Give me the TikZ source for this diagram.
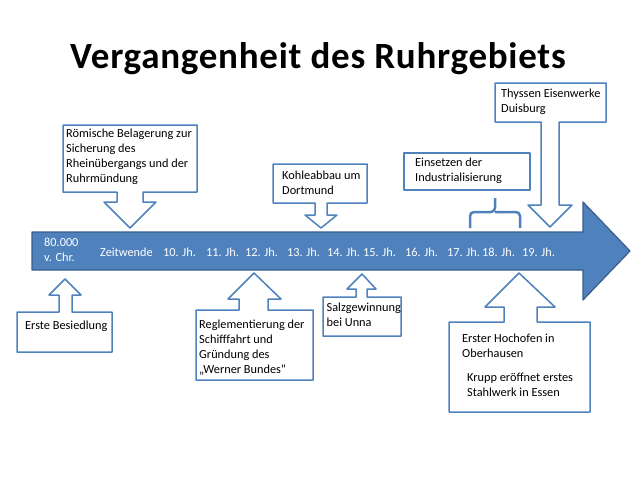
\documentclass[tikz,border=0pt]{standalone}
\usepackage{fontspec}
\setmainfont{Carlito}
\definecolor{ruhrblue}{RGB}{79,129,189}
\definecolor{ruhrdark}{RGB}{56,93,138}
\newcommand{\boxfont}{\fontsize{12.3}{15}\selectfont}

\begin{document}
\begin{tikzpicture}[x=1pt,y=-1pt,line join=round,
    callout/.style={draw=ruhrblue,line width=1.5pt,fill=white},
    calltext/.style={anchor=north west,inner sep=0pt,align=left,font=\boxfont,execute at begin node=\strut},
    jh/.style={anchor=base west,inner sep=0pt,font=\boxfont,text=white}]
\useasboundingbox (0,0) rectangle (638,479);

\node[anchor=base,inner sep=0pt,font=\fontsize{37}{44}\selectfont\bfseries\addfontfeature{LetterSpace=2}] (title) at (318,68) {Vergangenheit des Ruhrgebiets};

% Zeitstrahl
\draw[fill=ruhrblue,draw=ruhrdark,line width=1.2pt] (32,232) -- (583,232) -- (583,202) -- (630,251)
    -- (583,300) -- (583,270) -- (32,270) -- cycle;
\node[calltext,text=white] (vchr) at (44,237.8) {80.000\\v. Chr.};
\node[jh] (zw) at (100,256) {Zeitwende};
\node[jh] (j10) at (163,256) {10. Jh.};
\node[jh] (j11) at (206,256) {11. Jh.};
\node[jh] (j12) at (245,256) {12. Jh.};
\node[jh] (j13) at (287,256) {13. Jh.};
\node[jh] (j14) at (327,256) {14. Jh.};
\node[jh] (j15) at (363,256) {15. Jh.};
\node[jh] (j16) at (405,256) {16. Jh.};
\node[jh] (j17) at (447,256) {17. Jh.};
\node[jh] (j18) at (482,256) {18. Jh.};
\node[jh] (j19) at (522,256) {19. Jh.};

% Pfeile von oben
\draw[callout] (63,125) -- (197,125) -- (197,192) -- (143,192) -- (143,202) -- (156,202) -- (130,228)
    -- (104,202) -- (117,202) -- (117,192) -- (63,192) -- cycle;
\node[calltext] (roem) at (66,129) {Römische Belagerung zur\\Sicherung des\\Rheinübergangs und der\\Ruhrmündung};

\draw[callout] (273,164) -- (367,164) -- (367,203) -- (327,203) -- (327,215) -- (337,215) -- (321,228)
    -- (305,215) -- (315,215) -- (315,203) -- (273,203) -- cycle;
\node[calltext] (kohle) at (282,170.5) {Kohleabbau um\\Dortmund};

\draw[callout] (404,153) rectangle (530,190);
\node[calltext] (indu) at (415,158) {Einsetzen der\\Industrialisierung};
\draw[ruhrblue,line width=2.5pt,rounded corners=4pt] (470,228) -- (470,212) -- (495,212) -- (495,198)
    (520,228) -- (520,212) -- (495,212);

\draw[callout] (495,83) -- (606,83) -- (606,122) -- (559,122) -- (559,205) -- (572,205) -- (550,227)
    -- (528,205) -- (541,205) -- (541,122) -- (495,122) -- cycle;
\node[calltext] (thyssen) at (501,88.5) {Thyssen Eisenwerke\\Duisburg};

% Pfeile von unten
\draw[callout] (17,352) -- (112,352) -- (112,312) -- (72,312) -- (72,295) -- (81,295) -- (65,279)
    -- (49,295) -- (59,295) -- (59,312) -- (17,312) -- cycle;
\node[jh,text=black] (siedlung) at (25,329) {Erste Besiedlung};

\draw[callout] (196,380) -- (313,380) -- (313,310) -- (268,310) -- (268,299) -- (281,299) -- (254,273)
    -- (228,299) -- (239,299) -- (239,310) -- (196,310) -- cycle;
\node[calltext] (regl) at (199,319.5) {Reglementierung der\\Schifffahrt und\\Gründung des\\„Werner Bundes“};

\draw[callout] (323,336) -- (401,336) -- (401,297) -- (367,297) -- (367,289) -- (376,289) -- (362,274)
    -- (347,289) -- (356,289) -- (356,297) -- (323,297) -- cycle;
\node[calltext] (salz) at (326.5,302.5) {Salzgewinnung\\bei Unna};

\draw[callout] (449,412) -- (590,412) -- (590,322) -- (537,322) -- (537,307) -- (555,307) -- (519,273)
    -- (485,307) -- (504,307) -- (504,322) -- (449,322) -- cycle;
\node[calltext] (hochofen) at (462,333.5) {Erster Hochofen in\\Oberhausen};
\node[calltext] (krupp) at (467,372.5) {Krupp eröffnet erstes\\Stahlwerk in Essen};
\end{tikzpicture}
\end{document}
